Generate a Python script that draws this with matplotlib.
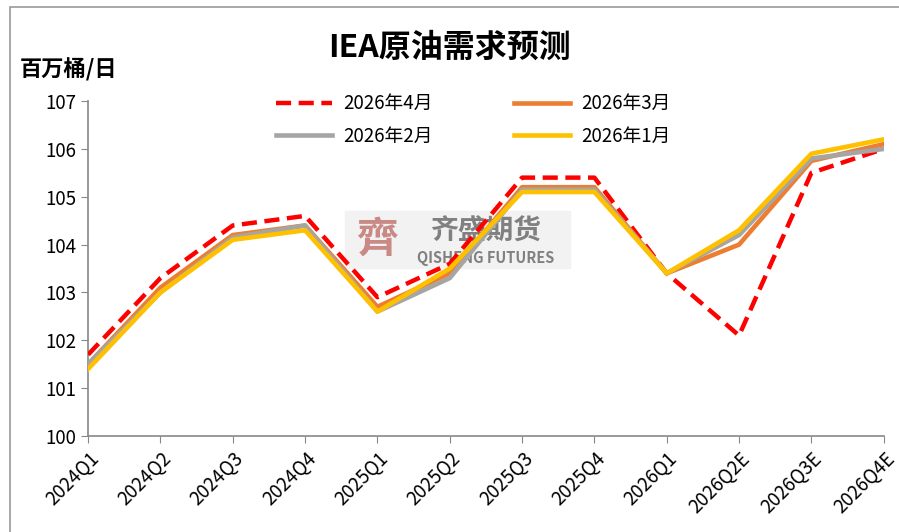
import matplotlib.pyplot as plt
from matplotlib.patches import Rectangle

plt.rcParams['font.family'] = ['Noto Sans CJK SC', 'DejaVu Sans']

quarters = ['2024Q1', '2024Q2', '2024Q3', '2024Q4', '2025Q1', '2025Q2',
            '2025Q3', '2025Q4', '2026Q1', '2026Q2E', '2026Q3E', '2026Q4E']
apr = [101.7, 103.3, 104.4, 104.6, 102.9, 103.6, 105.4, 105.4, 103.4, 102.1, 105.5, 106.0]
mar = [101.5, 103.1, 104.2, 104.4, 102.7, 103.4, 105.2, 105.2, 103.4, 104.0, 105.75, 106.1]
feb = [101.5, 103.0, 104.15, 104.4, 102.6, 103.3, 105.15, 105.15, 103.4, 104.2, 105.8, 106.0]
jan = [101.4, 103.0, 104.1, 104.3, 102.6, 103.5, 105.1, 105.1, 103.4, 104.3, 105.9, 106.2]

fig = plt.figure(figsize=(8.99, 5.32), dpi=100)
ax = fig.add_axes([0.098, 0.1805, 0.885, 0.6295])
ax.set_facecolor('none')

x = range(len(quarters))
l_apr, = ax.plot(x, apr, color='#ff0000', lw=3.2, ls=(0, (3.4, 1.7)), label='2026年4月', zorder=3)
l_mar, = ax.plot(x, mar, color='#ed7d31', lw=3.3, label='2026年3月', zorder=3)
l_feb, = ax.plot(x, feb, color='#a5a5a5', lw=3.3, label='2026年2月', zorder=3)
l_jan, = ax.plot(x, jan, color='#ffc000', lw=3.3, label='2026年1月', zorder=3)

ax.set_xlim(0, len(quarters) - 1)
ax.set_ylim(100, 107)
ax.set_yticks(range(100, 108))
ax.set_xticks(list(x))
ax.set_xticklabels(quarters, rotation=45, ha='right', rotation_mode='anchor', fontsize=13.5)
ax.tick_params(axis='y', labelsize=13.5, color='#888888', length=5)
ax.tick_params(axis='x', color='#888888', length=5)
for s in ['top', 'right']:
    ax.spines[s].set_visible(False)
for s in ['left', 'bottom']:
    ax.spines[s].set_color('#888888')
    ax.spines[s].set_linewidth(1.2)

ax.legend([l_apr, l_feb, l_mar, l_jan], ['2026年4月', '2026年2月', '2026年3月', '2026年1月'],
          loc='upper left', bbox_to_anchor=(0.215, 1.074), ncol=2, frameon=False,
          fontsize=13.5, handlelength=3.0, columnspacing=4.3, labelspacing=0.6, handletextpad=0.6)

fig.text(0.5, 0.91, 'IEA原油需求预测', ha='center', va='center', fontsize=23, fontweight='bold')
fig.text(0.022, 0.868, '百万桶/日', ha='left', va='center', fontsize=16, fontweight='bold')

# watermark (behind lines)
fig.patches.append(Rectangle((345 / 899, 1 - 268 / 532), 225 / 899, 57 / 532,
                             transform=fig.transFigure, color='#f2f2f2', zorder=-2))
fig.text(377 / 899, 1 - 240 / 532, '齊', fontsize=30, color='#c98a85', ha='center', va='center',
         fontweight='bold', zorder=-1)
fig.text(486 / 899, 1 - 232 / 532, '齐盛期货', fontsize=20, color='#808080', ha='center', va='center',
         fontweight='bold', zorder=-1)
fig.text(486 / 899, 1 - 258 / 532, 'QISHENG FUTURES', fontsize=10.5, color='#808080', ha='center',
         va='center', fontweight='bold', zorder=-1)

fig.patches.append(Rectangle((10 / 899, -0.05), 1.0, 1 - 7 / 532 + 0.05, transform=fig.transFigure,
                             fill=False, edgecolor='#999999', lw=1.2))

fig.savefig('out.png', dpi=100)
